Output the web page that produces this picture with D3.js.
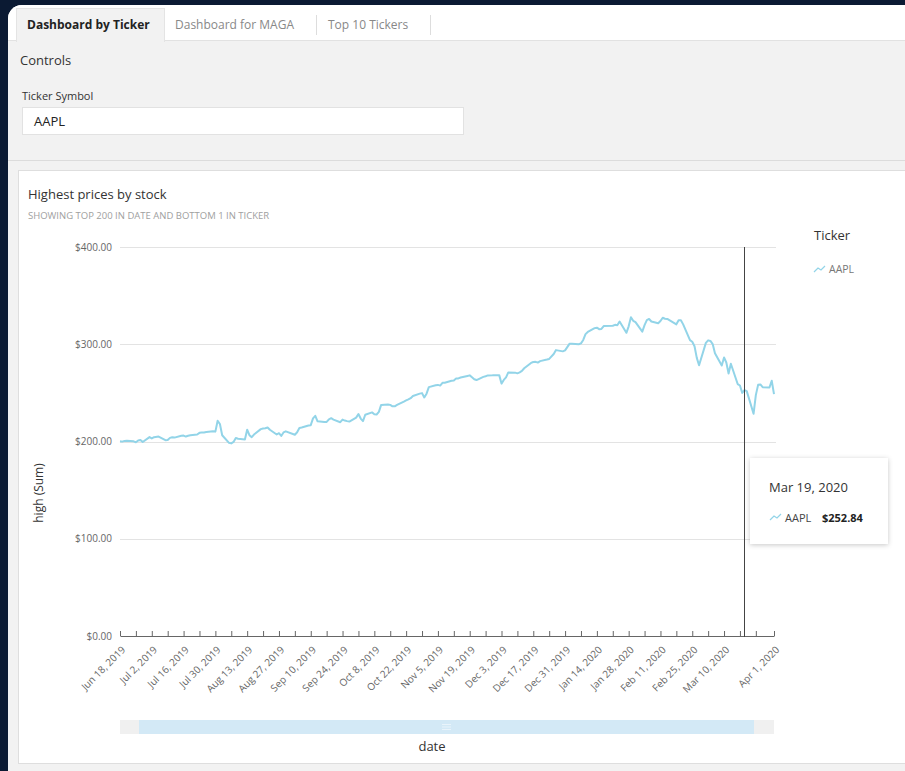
<!DOCTYPE html>
<html>
<head>
<meta charset="utf-8">
<script src="https://cdn.jsdelivr.net/npm/d3@7"></script>
<style>
  body { margin: 0; background: #0b1a33; overflow: hidden; }
  svg { display: block; font-family: "Open Sans", "Noto Sans", sans-serif; }
</style>
</head>
<body>
<div id="chart"></div>
<script>
// trading days shown (top 200 in date)
var dates = [
  "2019-06-18","2019-06-19","2019-06-20","2019-06-21","2019-06-24","2019-06-25","2019-06-26","2019-06-27","2019-06-28",
  "2019-07-01","2019-07-02","2019-07-03","2019-07-05","2019-07-08","2019-07-09","2019-07-10","2019-07-11","2019-07-12",
  "2019-07-15","2019-07-16","2019-07-17","2019-07-18","2019-07-19","2019-07-22","2019-07-23","2019-07-24","2019-07-25",
  "2019-07-26","2019-07-29","2019-07-30","2019-07-31",
  "2019-08-01","2019-08-02","2019-08-05","2019-08-06","2019-08-07","2019-08-08","2019-08-09","2019-08-12","2019-08-13",
  "2019-08-14","2019-08-15","2019-08-16","2019-08-19","2019-08-20","2019-08-21","2019-08-22","2019-08-23","2019-08-26",
  "2019-08-27","2019-08-28","2019-08-29","2019-08-30",
  "2019-09-03","2019-09-04","2019-09-05","2019-09-06","2019-09-09","2019-09-10","2019-09-11","2019-09-12","2019-09-13",
  "2019-09-16","2019-09-17","2019-09-18","2019-09-19","2019-09-20","2019-09-23","2019-09-24","2019-09-25","2019-09-26",
  "2019-09-27","2019-09-30",
  "2019-10-01","2019-10-02","2019-10-03","2019-10-04","2019-10-07","2019-10-08","2019-10-09","2019-10-10","2019-10-11",
  "2019-10-14","2019-10-15","2019-10-16","2019-10-17","2019-10-18","2019-10-21","2019-10-22","2019-10-23","2019-10-24",
  "2019-10-25","2019-10-28","2019-10-29","2019-10-30","2019-10-31",
  "2019-11-01","2019-11-04","2019-11-05","2019-11-06","2019-11-07","2019-11-08","2019-11-11","2019-11-12","2019-11-13",
  "2019-11-14","2019-11-15","2019-11-18","2019-11-19","2019-11-20","2019-11-21","2019-11-22","2019-11-25","2019-11-26",
  "2019-11-27","2019-11-29",
  "2019-12-02","2019-12-03","2019-12-04","2019-12-05","2019-12-06","2019-12-09","2019-12-10","2019-12-11","2019-12-12",
  "2019-12-13","2019-12-16","2019-12-17","2019-12-18","2019-12-19","2019-12-20","2019-12-23","2019-12-24","2019-12-26",
  "2019-12-27","2019-12-30","2019-12-31",
  "2020-01-02","2020-01-03","2020-01-06","2020-01-07","2020-01-08","2020-01-09","2020-01-10","2020-01-13","2020-01-14",
  "2020-01-15","2020-01-16","2020-01-17","2020-01-21","2020-01-22","2020-01-23","2020-01-24","2020-01-27","2020-01-28",
  "2020-01-29","2020-01-30","2020-01-31",
  "2020-02-03","2020-02-04","2020-02-05","2020-02-06","2020-02-07","2020-02-10","2020-02-11","2020-02-12","2020-02-13",
  "2020-02-14","2020-02-18","2020-02-19","2020-02-20","2020-02-21","2020-02-24","2020-02-25","2020-02-26","2020-02-27",
  "2020-02-28",
  "2020-03-02","2020-03-03","2020-03-04","2020-03-05","2020-03-06","2020-03-09","2020-03-10","2020-03-11","2020-03-12",
  "2020-03-13","2020-03-16","2020-03-17","2020-03-18","2020-03-19","2020-03-20","2020-03-23","2020-03-24","2020-03-25",
  "2020-03-26","2020-03-27","2020-03-30","2020-03-31",
  "2020-04-01"
];

// AAPL daily high
var highs = [
  200.29,199.88,200.61,200.85,200.16,199.26,200.99,201.57,199.50,
  204.49,203.13,204.44,205.08,201.40,201.51,203.73,204.39,204.00,
  205.87,206.11,205.09,205.88,206.50,207.23,208.91,209.15,209.24,
  209.73,210.64,210.16,221.37,
  218.03,206.43,198.65,198.07,199.56,203.53,202.76,202.05,212.14,
  206.44,204.44,207.16,212.73,213.35,213.65,214.44,212.05,207.19,
  208.55,205.72,209.32,210.45,
  206.98,209.48,213.97,214.42,216.44,216.78,223.71,226.42,220.79,
  220.13,220.13,222.85,224.00,222.56,219.84,222.49,221.50,220.94,
  220.47,224.58,
  228.22,223.58,220.96,227.49,229.93,228.06,227.79,230.44,237.64,
  238.13,237.65,236.15,236.15,237.58,240.99,242.20,243.24,244.51,
  246.73,249.25,249.75,245.30,249.17,
  255.93,257.85,258.19,257.49,260.35,260.44,262.47,262.79,264.78,
  264.88,265.78,267.43,268.00,266.08,264.01,263.18,266.44,267.16,
  267.98,268.00,
  268.25,259.53,263.31,265.89,271.00,270.80,270.07,271.10,272.56,
  275.30,280.79,281.77,281.90,281.18,282.65,284.25,284.89,289.98,
  293.97,292.69,293.68,
  300.60,300.58,299.96,300.90,304.44,310.43,312.67,316.57,317.07,
  315.50,315.70,318.74,319.02,319.99,319.56,323.33,311.77,318.40,
  327.85,324.09,322.68,
  312.99,319.64,324.76,325.98,323.40,321.55,323.90,327.22,326.22,
  325.98,320.45,324.57,324.65,320.45,304.18,302.53,297.88,286.00,
  278.41,
  301.44,304.00,303.40,300.22,290.82,278.09,286.44,281.22,270.00,
  279.92,259.08,257.61,250.00,252.84,251.83,228.50,247.69,258.25,
  258.68,255.87,255.52,262.49,
  248.72
];

var yTicks = [0, 100, 200, 300, 400];
var tabs = ["Dashboard by Ticker", "Dashboard for MAGA", "Top 10 Tickers"];
var ticker = "AAPL";
var hoverDate = "2020-03-19";

var parse = d3.timeParse("%Y-%m-%d");
var data = dates.map(function(d, i) { return {date: parse(d), high: highs[i]}; });

var W = 905, H = 771;
var plot = {left: 120, right: 774, top: 247, bottom: 636};
var lineColor = "#92d4e8";

var svg = d3.select("#chart").append("svg")
    .attr("width", W)
    .attr("height", H);

var defs = svg.append("defs");
var shadow = defs.append("filter").attr("id", "shadow")
    .attr("x", "-20%").attr("y", "-20%").attr("width", "140%").attr("height", "150%");
shadow.append("feDropShadow")
    .attr("dx", 0).attr("dy", 1).attr("stdDeviation", 2.5)
    .attr("flood-color", "#000").attr("flood-opacity", 0.22);

// page frame
svg.append("rect").attr("width", W).attr("height", H).attr("fill", "#0b1a33");
svg.append("rect").attr("x", 8).attr("y", 5).attr("width", 1000).attr("height", 1000)
    .attr("rx", 14).attr("fill", "#f2f2f2");
svg.append("rect").attr("x", 8).attr("y", 5).attr("width", 1000).attr("height", 35)
    .attr("rx", 14).attr("fill", "#fff");
svg.append("rect").attr("x", 8).attr("y", 22).attr("width", 1000).attr("height", 18)
    .attr("fill", "#fff");
svg.append("line").attr("x1", 8).attr("x2", W).attr("y1", 40.5).attr("y2", 40.5)
    .attr("stroke", "#e2e2e2");

// tabs
svg.append("rect").attr("x", 16.5).attr("y", 8.5).attr("width", 148).attr("height", 33)
    .attr("fill", "#f2f2f2").attr("stroke", "#e4e4e4");
svg.append("rect").attr("x", 17).attr("y", 39).attr("width", 147).attr("height", 4)
    .attr("fill", "#f2f2f2");
svg.append("text").attr("x", 27).attr("y", 29).attr("font-size", 12).attr("font-weight", "bold")
    .attr("fill", "#222").text(tabs[0]);
svg.append("text").attr("x", 175).attr("y", 29).attr("font-size", 12)
    .attr("fill", "#888").text(tabs[1]);
svg.append("text").attr("x", 328).attr("y", 29).attr("font-size", 12)
    .attr("fill", "#888").text(tabs[2]);
[316.5, 430.5].forEach(function(x) {
  svg.append("line").attr("x1", x).attr("x2", x).attr("y1", 15).attr("y2", 35)
      .attr("stroke", "#ddd");
});

// controls
svg.append("text").attr("x", 20).attr("y", 65).attr("font-size", 13)
    .attr("fill", "#333").text("Controls");
svg.append("text").attr("x", 22).attr("y", 100).attr("font-size", 11)
    .attr("fill", "#333").text("Ticker Symbol");
svg.append("rect").attr("x", 22.5).attr("y", 107.5).attr("width", 441).attr("height", 27)
    .attr("fill", "#fff").attr("stroke", "#e2e2e2");
svg.append("text").attr("x", 34).attr("y", 126).attr("font-size", 13)
    .attr("fill", "#222").text(ticker);
svg.append("line").attr("x1", 8).attr("x2", W).attr("y1", 160.5).attr("y2", 160.5)
    .attr("stroke", "#dcdcdc");

// visual card
svg.append("rect").attr("x", 18.5).attr("y", 170.5).attr("width", 1000).attr("height", 593)
    .attr("fill", "#fff").attr("stroke", "#dedede");
svg.append("text").attr("x", 28).attr("y", 199).attr("font-size", 13)
    .attr("fill", "#333").text("Highest prices by stock");
svg.append("text").attr("x", 28).attr("y", 219).attr("font-size", 9.5)
    .attr("fill", "#a0a0a0").text("SHOWING TOP 200 IN DATE AND BOTTOM 1 IN TICKER");

// scales
var x = d3.scaleTime()
    .domain([parse("2019-06-18"), parse("2020-04-01")])
    .range([plot.left, plot.right]);
var y = d3.scaleLinear()
    .domain([0, 400])
    .range([plot.bottom, plot.top]);

// grid + y labels
var money = d3.format("$,.2f");
svg.append("g").selectAll("line")
  .data(yTicks.filter(function(t) { return t > 0; }))
  .enter().append("line")
    .attr("x1", plot.left).attr("x2", plot.right + 2)
    .attr("y1", function(d) { return Math.round(y(d)) + 0.5; })
    .attr("y2", function(d) { return Math.round(y(d)) + 0.5; })
    .attr("stroke", "#e3e3e3");
svg.append("g").selectAll("text")
  .data(yTicks)
  .enter().append("text")
    .attr("x", 112)
    .attr("y", function(d) { return y(d); })
    .attr("dy", "0.35em")
    .attr("text-anchor", "end")
    .attr("font-size", 10)
    .attr("fill", "#666")
    .text(function(d) { return money(d); });

// x axis: weekly ticks, label every second week
var weekTicks = [];
for (var d = parse("2019-06-18"); d <= parse("2020-03-24"); d = d3.timeDay.offset(d, 7)) weekTicks.push(d);
var tickVals = weekTicks.concat([parse("2020-04-01")]);
var fmtDate = d3.timeFormat("%b %-d, %Y");

var xAxis = svg.append("g")
    .attr("transform", "translate(0," + plot.bottom + ")")
    .call(d3.axisBottom(x)
      .tickValues(tickVals)
      .tickSize(-5)
      .tickSizeOuter(0)
      .tickFormat(function(d, i) {
        if (i === tickVals.length - 1) return fmtDate(d);
        if (i % 2 === 0 && i < tickVals.length - 2) return fmtDate(d);
        return "";
      }));
xAxis.select(".domain").attr("stroke", "#666");
xAxis.selectAll(".tick line").attr("stroke", "#666");
xAxis.selectAll(".tick text")
    .attr("font-family", "'Open Sans', 'Noto Sans', sans-serif")
    .attr("font-size", 10)
    .style("fill", "#666")
    .attr("x", 0).attr("y", 0).attr("dy", "0.35em")
    .attr("transform", "translate(3,12) rotate(-45)")
    .style("text-anchor", "end");

// line
var line = d3.line()
    .x(function(d) { return x(d.date); })
    .y(function(d) { return y(d.high); });
svg.append("path")
    .datum(data)
    .attr("d", line)
    .attr("fill", "none")
    .attr("stroke", lineColor)
    .attr("stroke-width", 2)
    .attr("stroke-linejoin", "round");

// crosshair
var hover = data[dates.indexOf(hoverDate)];
svg.append("line")
    .attr("x1", Math.round(x(hover.date)) + 0.5).attr("x2", Math.round(x(hover.date)) + 0.5)
    .attr("y1", plot.top).attr("y2", plot.bottom + 1)
    .attr("stroke", "#444").attr("stroke-width", 1);

// axis titles
svg.append("text")
    .attr("transform", "translate(43,493) rotate(-90)")
    .attr("text-anchor", "middle").attr("font-size", 12).attr("fill", "#333")
    .text("high (Sum)");
svg.append("text")
    .attr("x", 432).attr("y", 751)
    .attr("text-anchor", "middle").attr("font-size", 13).attr("fill", "#333")
    .text("date");

// scroll bar
svg.append("rect").attr("x", plot.left).attr("y", 720).attr("width", plot.right - plot.left).attr("height", 14)
    .attr("fill", "#f0f0f0");
svg.append("rect").attr("x", 139).attr("y", 720).attr("width", 615).attr("height", 14)
    .attr("fill", "#d3e9f6");
[724.5, 727, 729.5].forEach(function(gy) {
  svg.append("line").attr("x1", 442).attr("x2", 451).attr("y1", gy).attr("y2", gy)
      .attr("stroke", "#e9f4fb");
});

// legend icon
function icon(g, x0, y0) {
  g.append("path")
      .attr("d", "M" + x0 + "," + (y0 + 3) + "l4,-4l3,2l4,-4")
      .attr("fill", "none").attr("stroke", lineColor).attr("stroke-width", 1.2);
}

// legend
svg.append("text").attr("x", 814).attr("y", 240).attr("font-size", 13)
    .attr("fill", "#333").text("Ticker");
icon(svg, 814, 269);
svg.append("text").attr("x", 829).attr("y", 273).attr("font-size", 10.5)
    .attr("fill", "#777").text(ticker);

// tooltip
var tip = svg.append("g");
tip.append("rect").attr("x", 750).attr("y", 458).attr("width", 138).attr("height", 86)
    .attr("fill", "#fff").attr("filter", "url(#shadow)");
tip.append("text").attr("x", 769).attr("y", 492).attr("font-size", 13)
    .attr("fill", "#333").text(fmtDate(hover.date));
icon(tip, 770, 517);
tip.append("text").attr("x", 785).attr("y", 522).attr("font-size", 11)
    .attr("fill", "#444").text(ticker);
tip.append("text").attr("x", 822).attr("y", 522).attr("font-size", 11).attr("font-weight", "bold")
    .attr("fill", "#222").text(money(hover.high));
</script>
</body>
</html>
